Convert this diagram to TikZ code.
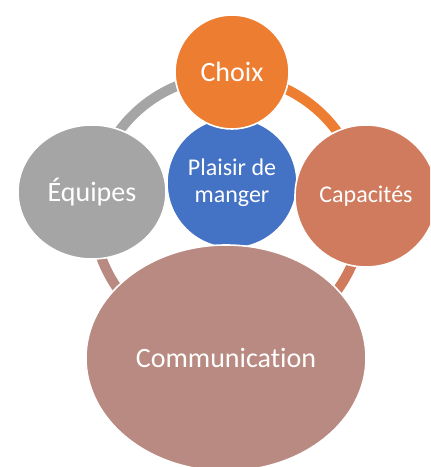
\documentclass[tikz,border=0pt]{standalone}
\usepackage{fontspec}
\setmainfont{Carlito}[Ligatures=NoCommon]
\usetikzlibrary{shapes.geometric}
\definecolor{choixcol}{RGB}{237,125,49}
\definecolor{plaisircol}{RGB}{68,114,196}
\definecolor{equipcol}{RGB}{165,165,165}
\definecolor{capcol}{RGB}{209,123,94}
\definecolor{comcol}{RGB}{185,138,130}

\begin{document}
\begin{tikzpicture}[x=0.75pt, y=0.75pt,
bubble/.style={circle, draw=white, line width=1.2pt, inner sep=0pt, text=white, align=center, font=\fontsize{21}{25}\selectfont},
oval/.style={bubble, ellipse},
ringarc/.style={line width=7.5pt}]
\clip (0,0) rectangle (430,467);
\coordinate (hub) at (228,256);
\foreach \a/\b/\c in {88/6/choixcol, 6/-90/capcol, 270/172/comcol, 172/88/equipcol}
	\draw[ringarc, \c] (hub) ++(\a:135) arc[start angle=\a, end angle=\b, radius=135];
\node[bubble, fill=plaisircol, minimum size=97.5pt, font=\fontsize{18}{20.5}\selectfont] (plaisir) at (232,284) {Plaisir de\\manger};
\node[bubble, fill=choixcol, minimum size=85.5pt] (choix) at (232,395) {Choix};
\node[oval, fill=equipcol, minimum width=111pt, minimum height=100.5pt] (equipes) at (92,275) {Équipes};
\node[bubble, fill=capcol, minimum size=106.5pt, font=\fontsize{18}{20.5}\selectfont] (capacites) at (366,271) {Capacités};
\node[oval, fill=comcol, minimum width=210pt, minimum height=169.5pt] (communication) at (226,109) {Communication};
\end{tikzpicture}
\end{document}
